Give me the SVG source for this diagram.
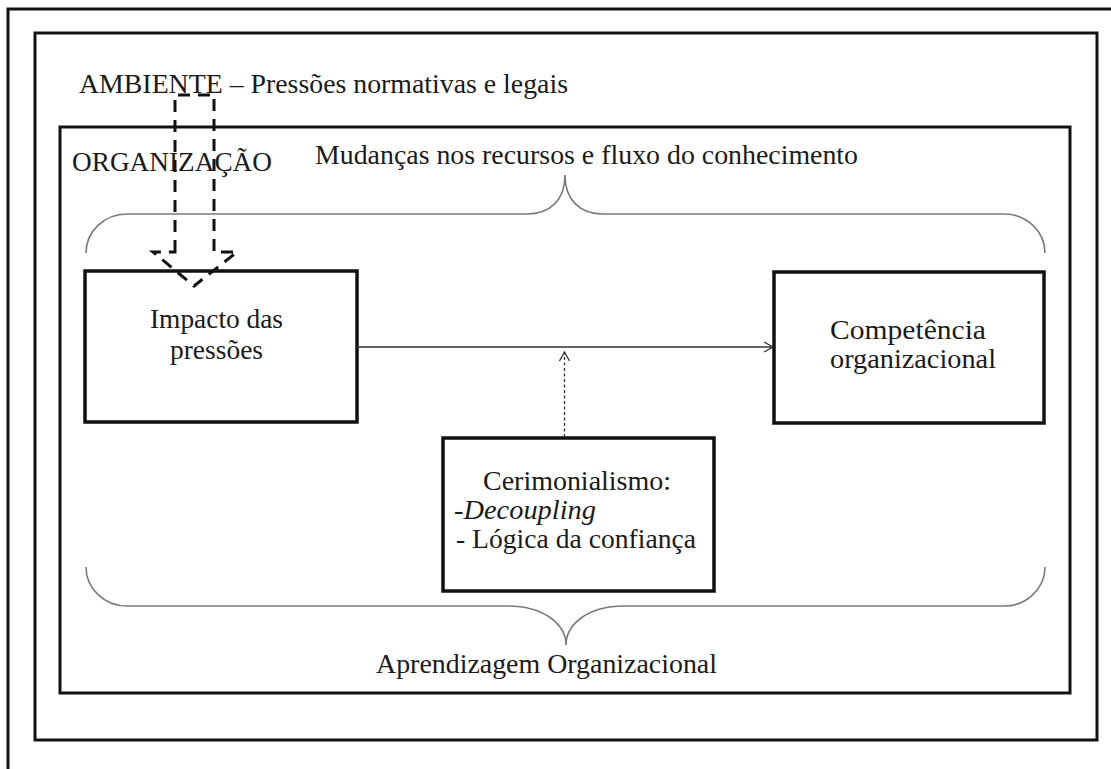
<svg xmlns="http://www.w3.org/2000/svg" width="1111" height="769" viewBox="0 0 1111 769">
<style>
  .frame { fill: none; stroke: #111; stroke-width: 3; }
  .box { fill: #fff; stroke: #111; stroke-width: 3.5; }
  .brace { fill: none; stroke: #7a7a7a; stroke-width: 1.6; }
  .lbl { font-family: "Liberation Serif", "Times New Roman", serif; font-size: 27px; fill: #1a1a1a; }
  .conn { fill: none; stroke: #333; stroke-width: 1.3; }
  .dot { fill: none; stroke: #333; stroke-width: 1.3; stroke-dasharray: 3 2.5; }
  .block { fill: none; stroke: #111; stroke-width: 3; stroke-dasharray: 12 8; stroke-linejoin: miter; }
</style>
<defs>
  <marker id="open" viewBox="0 0 12 12" refX="11" refY="6" markerWidth="12" markerHeight="12" markerUnits="userSpaceOnUse" orient="auto">
    <path d="M2,1 L11,6 L2,11" fill="none" stroke="#333" stroke-width="1.3"/>
  </marker>
</defs>
<rect width="1111" height="769" fill="#fff"/>

<g id="frames">
  <path class="frame" d="M8,780 V9 H1120"/>
  <rect class="frame" x="35" y="33" width="1062" height="707"/>
  <rect id="organizacao" class="frame" x="60" y="127" width="1010" height="566"/>
</g>

<g id="labels">
  <text class="lbl" x="79" y="93" textLength="489" lengthAdjust="spacingAndGlyphs">AMBIENTE – Pressões normativas e legais</text>
  <text class="lbl" x="72" y="171" textLength="200" lengthAdjust="spacingAndGlyphs">ORGANIZAÇÃO</text>
  <text class="lbl" x="315" y="164" textLength="543" lengthAdjust="spacingAndGlyphs">Mudanças nos recursos e fluxo do conhecimento</text>
  <text class="lbl" x="376" y="673" textLength="341" lengthAdjust="spacingAndGlyphs">Aprendizagem Organizacional</text>
</g>

<g id="braces">
  <path class="brace" d="M86,253 A41,39 0 0 1 127,214 H527 C550,214 565,200 565,175 C565,200 580,214 603,214 H1004 A41,39 0 0 1 1045,253"/>
  <path class="brace" d="M86,567 A41,39 0 0 0 127,606 H507 C545,606 566,625 566,645 C566,625 587,606 624,606 H1004 A41,39 0 0 0 1045,567"/>
</g>

<g id="impacto">
  <rect class="box" x="85" y="271" width="272" height="151"/>
  <text class="lbl" x="150" y="328" textLength="133" lengthAdjust="spacingAndGlyphs">Impacto das</text>
  <text class="lbl" x="170" y="359" textLength="93" lengthAdjust="spacingAndGlyphs">pressões</text>
</g>

<g id="competencia">
  <rect class="box" x="774" y="272" width="270" height="151"/>
  <text class="lbl" x="830" y="339" textLength="156" lengthAdjust="spacingAndGlyphs">Competência</text>
  <text class="lbl" x="830" y="368" textLength="166" lengthAdjust="spacingAndGlyphs">organizacional</text>
</g>

<g id="cerimonialismo">
  <rect class="box" x="443" y="438" width="271" height="153"/>
  <text class="lbl" x="483" y="490" textLength="188" lengthAdjust="spacingAndGlyphs">Cerimonialismo:</text>
  <text class="lbl" x="454" y="519" textLength="142" lengthAdjust="spacingAndGlyphs">-<tspan font-style="italic">Decoupling</tspan></text>
  <text class="lbl" x="456" y="548" textLength="240" lengthAdjust="spacingAndGlyphs">- Lógica da confiança</text>
</g>

<g id="connectors">
  <line class="conn" x1="357" y1="347" x2="773" y2="347" marker-end="url(#open)"/>
  <line class="dot" x1="564.5" y1="437" x2="564.5" y2="352" marker-end="url(#open)"/>
  <path id="pressure-arrow" class="block" d="M175,252 V95 H214 V252 H237 L194,286 L153,252 Z"/>
</g>
</svg>
